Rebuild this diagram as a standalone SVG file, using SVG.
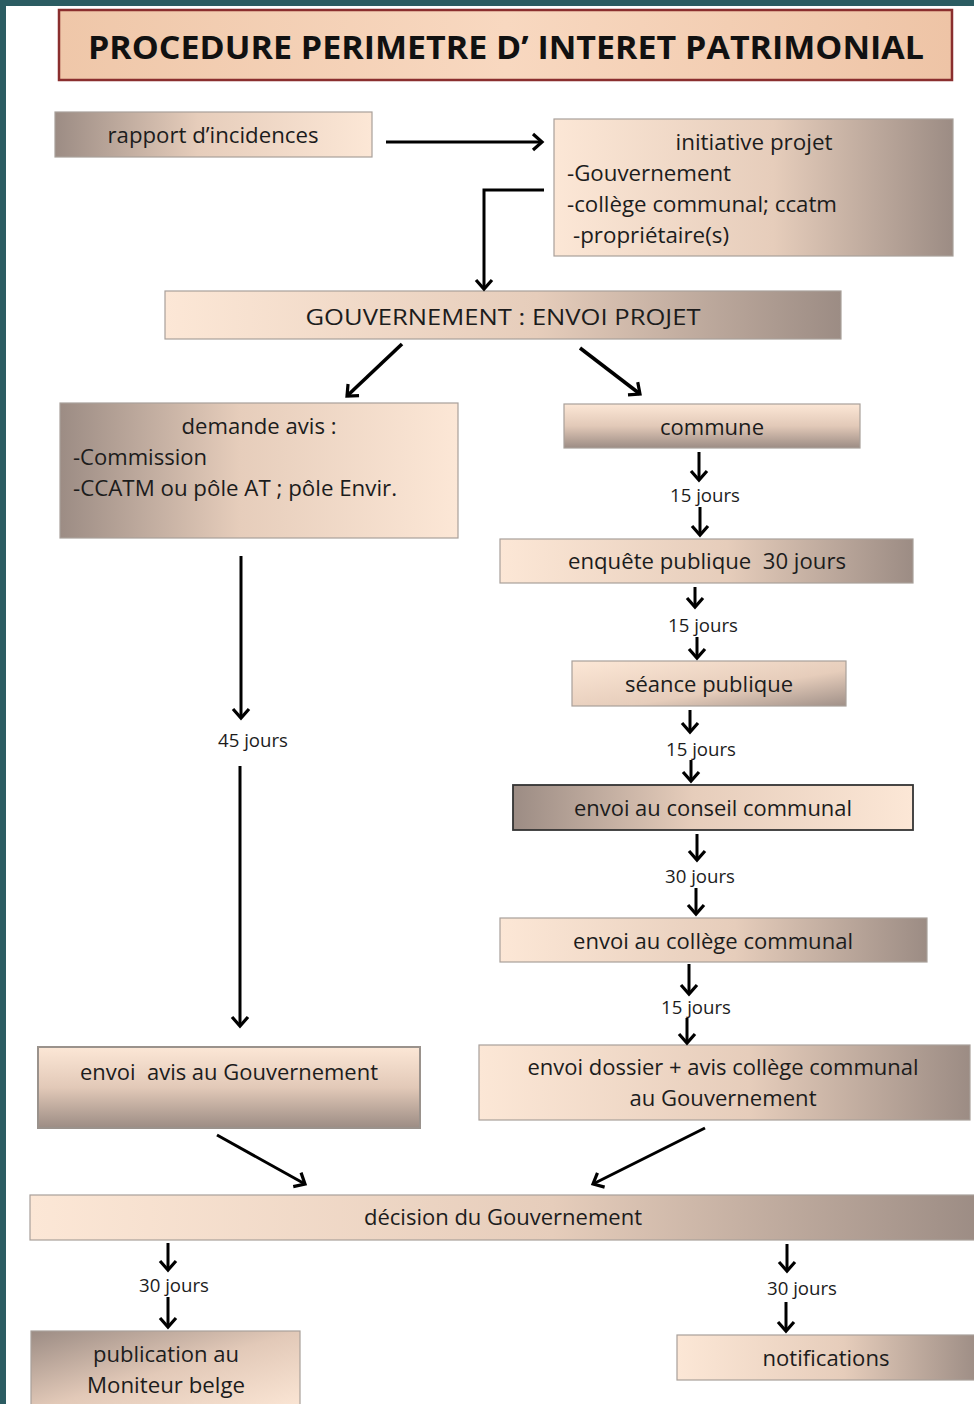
<svg xmlns="http://www.w3.org/2000/svg" width="974" height="1404" viewBox="0 0 974 1404">
<style>
.bx{stroke:#a8a09a;stroke-width:1.2}
.t{font-family:"Open Sans","Liberation Sans",sans-serif;font-size:21px;fill:#1c1c1c;white-space:pre}
.c{text-anchor:middle}
.lb{font-family:"Open Sans","Liberation Sans",sans-serif;font-size:18px;fill:#1c1c1c;text-anchor:middle}
.cn{stroke:#000;stroke-width:3;fill:none;marker-end:url(#ah)}
.dg{stroke-width:3.6}
</style>
<defs>
<linearGradient id="gLR" x1="0" y1="0" x2="1" y2="0"><stop offset="0" stop-color="#fce7d6"/><stop offset="0.55" stop-color="#e6cdbb"/><stop offset="1" stop-color="#9c8c84"/></linearGradient>
<linearGradient id="gRL" x1="0" y1="0" x2="1" y2="0"><stop offset="0" stop-color="#9c8c84"/><stop offset="0.45" stop-color="#e6cdbb"/><stop offset="1" stop-color="#fce7d6"/></linearGradient>
<linearGradient id="gTB" x1="0" y1="0" x2="0" y2="1"><stop offset="0" stop-color="#fce7d6"/><stop offset="0.5" stop-color="#e2c9b8"/><stop offset="1" stop-color="#9c8c84"/></linearGradient>
<linearGradient id="gD" x1="0" y1="0" x2="1" y2="1"><stop offset="0" stop-color="#fce7d6"/><stop offset="0.6" stop-color="#e6cdbb"/><stop offset="1" stop-color="#a09088"/></linearGradient>
<linearGradient id="gDR" x1="0" y1="0" x2="1" y2="1"><stop offset="0" stop-color="#9c8c84"/><stop offset="0.5" stop-color="#e2c9b8"/><stop offset="1" stop-color="#fce7d6"/></linearGradient>
<linearGradient id="gT" x1="0" y1="0" x2="1" y2="0"><stop offset="0" stop-color="#efc7a9"/><stop offset="0.5" stop-color="#f8d8c0"/><stop offset="1" stop-color="#eec4a6"/></linearGradient>
<marker id="ah" markerWidth="22" markerHeight="22" refX="11" refY="11" orient="auto" markerUnits="userSpaceOnUse"><path d="M2,3 L11,11 L2,19" fill="none" stroke="#000" stroke-width="3.2"/></marker>
</defs>
<rect x="0" y="0" width="974" height="1404" fill="#ffffff"/>
<rect x="0" y="0" width="6" height="1404" fill="#2b5c62"/>
<rect x="0" y="0" width="974" height="6" fill="#2b5c62"/>

<g id="title">
<rect x="59" y="10" width="893" height="70" fill="url(#gT)" stroke="#8a2e2e" stroke-width="2.5"/>
<text x="506" y="59" font-family="'Open Sans','Liberation Sans',sans-serif" font-weight="bold" font-size="33" fill="#111" text-anchor="middle" textLength="836" lengthAdjust="spacingAndGlyphs">PROCEDURE PERIMETRE D’ INTERET PATRIMONIAL</text>
</g>

<g id="rapport">
<rect class="bx" x="55" y="112" width="317" height="45" fill="url(#gRL)"/>
<text class="t c" x="213" y="143" textLength="211" lengthAdjust="spacingAndGlyphs">rapport d’incidences</text>
</g>

<g id="initiative">
<rect class="bx" x="554" y="119" width="399" height="137" fill="url(#gLR)"/>
<text class="t c" x="754" y="150" textLength="157" lengthAdjust="spacingAndGlyphs">initiative projet</text>
<text class="t" x="567" y="181" textLength="164" lengthAdjust="spacingAndGlyphs">-Gouvernement</text>
<text class="t" x="567" y="212" textLength="270" lengthAdjust="spacingAndGlyphs">-collège communal; ccatm</text>
<text class="t" x="573" y="243" textLength="156" lengthAdjust="spacingAndGlyphs">-propriétaire(s)</text>
</g>

<g id="gouv-envoi">
<rect class="bx" x="165" y="291" width="676" height="48" fill="url(#gLR)"/>
<text class="t c" x="503" y="325" textLength="395" lengthAdjust="spacingAndGlyphs">GOUVERNEMENT : ENVOI PROJET</text>
</g>

<g id="demande">
<rect class="bx" x="60" y="403" width="398" height="135" fill="url(#gRL)"/>
<text class="t c" x="259" y="434" textLength="155" lengthAdjust="spacingAndGlyphs">demande avis :</text>
<text class="t" x="73" y="465" textLength="134" lengthAdjust="spacingAndGlyphs">-Commission</text>
<text class="t" x="73" y="496" textLength="324" lengthAdjust="spacingAndGlyphs">-CCATM ou pôle AT ; pôle Envir.</text>
</g>

<g id="commune">
<rect class="bx" x="564" y="404" width="296" height="44" fill="url(#gTB)"/>
<text class="t c" x="712" y="435" textLength="104" lengthAdjust="spacingAndGlyphs">commune</text>
</g>

<g id="enquete">
<rect class="bx" x="500" y="539" width="413" height="44" fill="url(#gLR)"/>
<text class="t c" x="707" y="569" textLength="278" lengthAdjust="spacingAndGlyphs">enquête publique  30 jours</text>
</g>

<g id="seance">
<rect class="bx" x="572" y="661" width="274" height="45" fill="url(#gD)"/>
<text class="t c" x="709" y="692" textLength="168" lengthAdjust="spacingAndGlyphs">séance publique</text>
</g>

<g id="conseil">
<rect x="513" y="785" width="400" height="45" fill="url(#gRL)" stroke="#333" stroke-width="1.8"/>
<text class="t c" x="713" y="816" textLength="278" lengthAdjust="spacingAndGlyphs">envoi au conseil communal</text>
</g>

<g id="college">
<rect class="bx" x="500" y="918" width="427" height="44" fill="url(#gLR)"/>
<text class="t c" x="713" y="949" textLength="280" lengthAdjust="spacingAndGlyphs">envoi au collège communal</text>
</g>

<g id="dossier">
<rect class="bx" x="479" y="1045" width="491" height="75" fill="url(#gLR)"/>
<text class="t c" x="723" y="1075" textLength="391" lengthAdjust="spacingAndGlyphs">envoi dossier + avis collège communal</text>
<text class="t c" x="723" y="1106" textLength="187" lengthAdjust="spacingAndGlyphs">au Gouvernement</text>
</g>

<g id="avis-gouv">
<rect x="38" y="1047" width="382" height="81" fill="url(#gTB)" stroke="#9a928c" stroke-width="2"/>
<text class="t c" x="229" y="1080" textLength="298" lengthAdjust="spacingAndGlyphs">envoi  avis au Gouvernement</text>
</g>

<g id="decision">
<rect class="bx" x="30" y="1195" width="950" height="45" fill="url(#gLR)"/>
<text class="t c" x="503" y="1225" textLength="278" lengthAdjust="spacingAndGlyphs">décision du Gouvernement</text>
</g>

<g id="publication">
<rect class="bx" x="31" y="1331" width="269" height="80" fill="url(#gDR)"/>
<text class="t c" x="166" y="1362" textLength="146" lengthAdjust="spacingAndGlyphs">publication au</text>
<text class="t c" x="166" y="1393" textLength="158" lengthAdjust="spacingAndGlyphs">Moniteur belge</text>
</g>

<g id="notifications">
<rect class="bx" x="677" y="1335" width="303" height="45" fill="url(#gLR)"/>
<text class="t c" x="826" y="1366" textLength="127" lengthAdjust="spacingAndGlyphs">notifications</text>
</g>

<g id="connectors">
<path class="cn" d="M386,142 L542,142"/>
<path class="cn" d="M544,190 L484,190 L484,289"/>
<path class="cn dg" d="M402,344 L347,396"/>
<path class="cn dg" d="M580,348 L640,394"/>
<path class="cn" d="M241,556 L241,718"/>
<path class="cn" d="M240,766 L240,1026"/>
<path class="cn" d="M699,452 L699,480"/>
<path class="cn" d="M700,507 L700,535"/>
<path class="cn" d="M695,587 L695,607"/>
<path class="cn" d="M697,637 L697,658"/>
<path class="cn" d="M690,710 L690,732"/>
<path class="cn" d="M691,760 L691,781"/>
<path class="cn" d="M697,834 L697,860"/>
<path class="cn" d="M696,888 L696,914"/>
<path class="cn" d="M689,964 L689,994"/>
<path class="cn" d="M687,1018 L687,1043"/>
<path class="cn" d="M217,1135 L305,1184"/>
<path class="cn" d="M705,1128 L593,1184"/>
<path class="cn" d="M168,1243 L168,1270"/>
<path class="cn" d="M168,1297 L168,1327"/>
<path class="cn" d="M787,1244 L787,1271"/>
<path class="cn" d="M786,1302 L786,1331"/>
<text class="lb" x="253" y="747" textLength="70" lengthAdjust="spacingAndGlyphs">45 jours</text>
<text class="lb" x="705" y="502" textLength="70" lengthAdjust="spacingAndGlyphs">15 jours</text>
<text class="lb" x="703" y="632" textLength="70" lengthAdjust="spacingAndGlyphs">15 jours</text>
<text class="lb" x="701" y="756" textLength="70" lengthAdjust="spacingAndGlyphs">15 jours</text>
<text class="lb" x="700" y="883" textLength="70" lengthAdjust="spacingAndGlyphs">30 jours</text>
<text class="lb" x="696" y="1014" textLength="70" lengthAdjust="spacingAndGlyphs">15 jours</text>
<text class="lb" x="174" y="1292" textLength="70" lengthAdjust="spacingAndGlyphs">30 jours</text>
<text class="lb" x="802" y="1295" textLength="70" lengthAdjust="spacingAndGlyphs">30 jours</text>
</g>
</svg>
